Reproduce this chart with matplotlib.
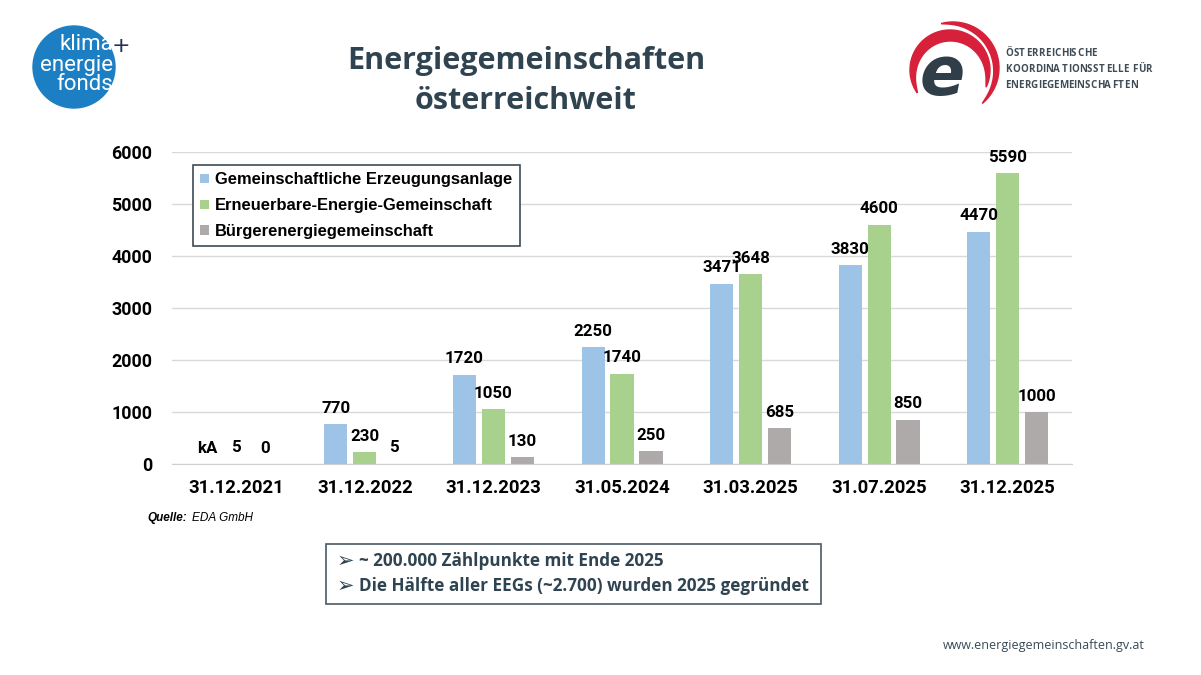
import numpy as np
import matplotlib
matplotlib.use("Agg")
import matplotlib.pyplot as plt
from matplotlib.patches import Circle, Polygon, Rectangle
from matplotlib.textpath import TextPath
from matplotlib.font_manager import FontProperties

# data
dates = ["31.12.2021", "31.12.2022", "31.12.2023", "31.05.2024",
         "31.03.2025", "31.07.2025", "31.12.2025"]
gea = [None, 770, 1720, 2250, 3471, 3830, 4470]   # None = keine Angabe
eeg = [5, 230, 1050, 1740, 3648, 4600, 5590]
beg = [0, 5, 130, 250, 685, 850, 1000]
series_names = ["Gemeinschaftliche Erzeugungsanlage",
                "Erneuerbare-Energie-Gemeinschaft",
                "Bürgerenergiegemeinschaft"]
colors = ["#9dc3e6", "#a9d18e", "#aeaaaa"]
y_ticks = [0, 1000, 2000, 3000, 4000, 5000, 6000]

W, H = 1201, 675
fig = plt.figure(figsize=(W / 100, H / 100), dpi=100)
fig.patch.set_facecolor("white")

def fx(px):
    return px / W

def fy(py):
    return 1 - py / H

dark = "#2f4450"

# chart
ax = fig.add_axes([fx(172), fy(464), fx(1072) - fx(172), fy(152) - fy(464)])
x = np.arange(len(dates))
w = 0.18
off = 0.225
for i, (vals, c) in enumerate(zip([gea, eeg, beg], colors)):
    v = [0 if a is None else a for a in vals]
    ax.bar(x + (i - 1) * off, v, width=w, color=c, label=series_names[i], zorder=2)
    for xi, (raw, h) in enumerate(zip(vals, v)):
        lab = "kA" if raw is None else str(raw)
        ax.annotate(lab, (x[xi] + (i - 1) * off, h), xytext=(0, 6), textcoords="offset points",
                    ha="center", va="bottom", fontsize=12.2, fontweight="bold",
                    family="Roboto", color="black")

ax.set_xlim(-0.5, len(dates) - 0.5)
ax.set_ylim(0, 6000)
ax.set_yticks(y_ticks)
ax.set_yticklabels([str(t) for t in y_ticks], fontsize=12.9, fontweight="bold", family="Roboto")
ax.set_xticks(x)
ax.set_xticklabels(dates, fontsize=13.3, fontweight="bold", family="Roboto")
ax.tick_params(length=0)
ax.tick_params(axis="y", pad=14)
ax.tick_params(axis="x", pad=11)
ax.grid(axis="y", color="#d9d9d9", linewidth=1, zorder=0)
for s in ["top", "right", "left"]:
    ax.spines[s].set_visible(False)
ax.spines["bottom"].set_color("#d0d0d0")
ax.spines["bottom"].set_zorder(3)
ax.set_facecolor("none")

leg = fig.legend(loc="upper left", bbox_to_anchor=(fx(193), fy(165)), bbox_transform=fig.transFigure,
                 borderaxespad=0,
                 handles=ax.get_legend_handles_labels()[0], labels=series_names,
                 prop={"family": "Liberation Sans", "weight": "bold", "size": 11.9},
                 handlelength=0.5, handleheight=0.5, handletextpad=0.4, labelspacing=0.65,
                 borderpad=0.45, fancybox=False, framealpha=1, edgecolor="#3c4c58")
leg.get_frame().set_linewidth(1.2)

# title
fig.text(fx(526), fy(61), "Energiegemeinschaften", ha="center", va="center",
         fontsize=22, fontweight="bold", family="Open Sans", color=dark)
fig.text(fx(526), fy(101), "österreichweit", ha="center", va="center",
         fontsize=22, fontweight="bold", family="Open Sans", color=dark)

# source
fig.text(fx(147), fy(518), "Quelle:", ha="left", va="center", fontsize=8.5,
         fontweight="bold", style="italic", family="Liberation Sans")
fig.text(fx(192), fy(518), "EDA GmbH", ha="left", va="center", fontsize=8.5,
         style="italic", family="Liberation Sans")

# text box
fig.patches.append(Rectangle((fx(326), fy(604)), fx(821) - fx(326), fy(544) - fy(604),
                             transform=fig.transFigure, fill=False, edgecolor="#4a5a66", linewidth=1.2))
for yy, t in [(561, "~ 200.000 Zählpunkte mit Ende 2025"),
              (586, "Die Hälfte aller EEGs (~2.700) wurden 2025 gegründet")]:
    fig.text(fx(337), fy(yy), "➢", ha="left", va="center", fontsize=15,
             family="DejaVu Sans", fontweight="bold", color=dark)
    fig.text(fx(359), fy(yy), t, ha="left", va="center", fontsize=12.3,
             fontweight="bold", family="Open Sans", color=dark)

# footer
fig.text(fx(1145), fy(645), "www.energiegemeinschaften.gv.at", ha="right", va="center",
         fontsize=9, family="Open Sans", color="#3a4a55")

# logos
la = fig.add_axes([0, 0, 1, 1], zorder=-1)
la.set_xlim(0, W)
la.set_ylim(H, 0)
la.axis("off")

# klima energie fonds
la.add_patch(Circle((74, 67), 41, color="#1d7fc3"))
for yy, t in [(45, "klima"), (65, "energie"), (84, "fonds")]:
    la.text(113, yy, t, ha="right", va="center", color="white", fontsize=16,
            family="Roboto")
la.text(121, 46, "+", ha="center", va="center", color="#23305a", fontsize=16, family="DejaVu Sans")

# e logo
def crescent(cx, cy, r, t0, t1, wmax, n=80):
    t = np.linspace(t0, t1, n)
    width = wmax * np.sin(np.linspace(0, np.pi, n)) ** 0.7
    outer = np.c_[cx + r * np.cos(t), cy - r * np.sin(t)]
    inner = np.c_[cx + (r - width) * np.cos(t), cy - (r - width) * np.sin(t)]
    return np.vstack([outer, inner[::-1]])

la.add_patch(Polygon(crescent(950, 70, 40, np.radians(215), np.radians(-25), 11), color="#d7213a"))
la.add_patch(Polygon(crescent(953, 68, 46, np.radians(105), np.radians(-50), 6), color="#d7213a"))
la.text(942, 76, "e", ha="center", va="center", fontsize=48, fontweight="bold",
        style="italic", family="DejaVu Sans", color="#2f3e48")

fp = FontProperties(family="Open Sans", weight="bold", size=7)
track = 1.5
for yy, t in [(53, "ÖSTERREICHISCHE"), (69, "KOORDINATIONSSTELLE FÜR"), (85, "ENERGIEGEMEINSCHAFTEN")]:
    xx = 1005
    for ch in t:
        if ch == " ":
            xx += 4
            continue
        la.text(xx, yy, ch, ha="left", va="center", fontproperties=fp, color="#3f4b55")
        xx += TextPath((0, 0), ch, size=7, prop=fp).get_extents().width * 100 / 72 + track

fig.savefig("out.png", dpi=100)
